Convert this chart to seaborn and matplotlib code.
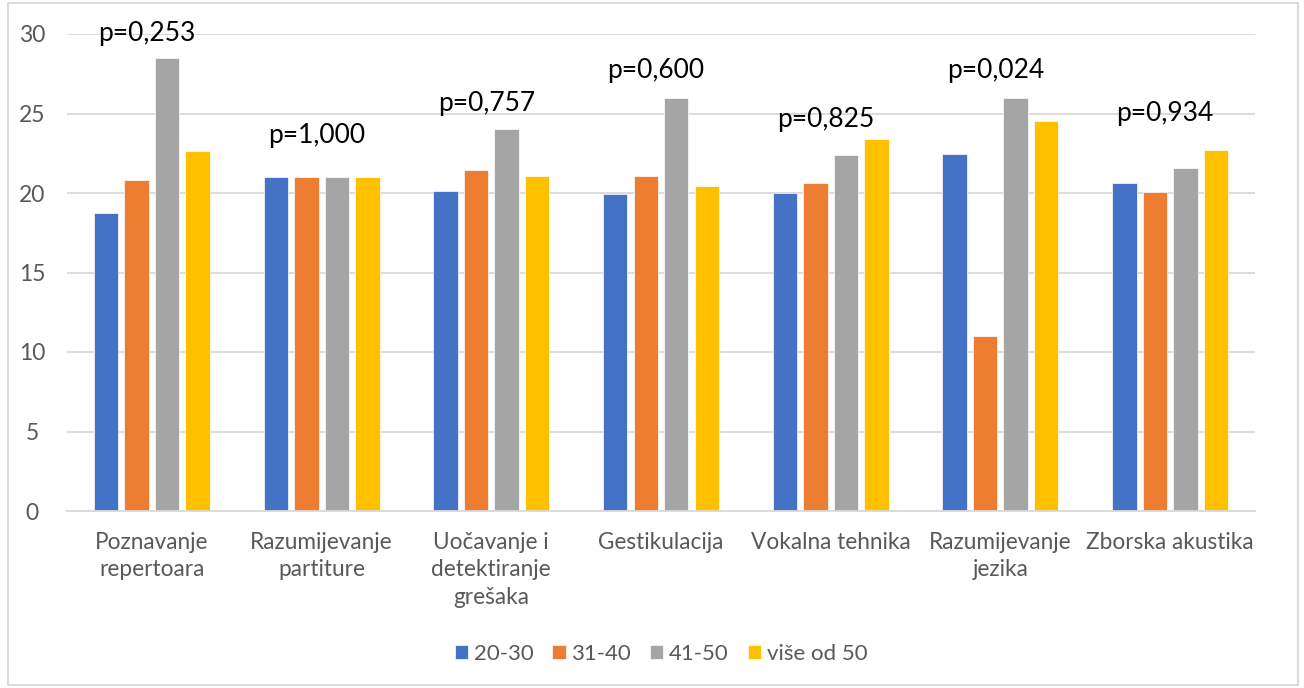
import pandas as pd
import seaborn as sns
import matplotlib.pyplot as plt
from matplotlib.patches import Rectangle

# categories (x axis) and the four age groups
categories = ['Poznavanje\nrepertoara', 'Razumijevanje\npartiture',
              'Uočavanje i\ndetektiranje\ngrešaka', 'Gestikulacija',
              'Vokalna tehnika', 'Razumijevanje\njezika', 'Zborska akustika']
groups = ['20-30', '31-40', '41-50', 'više od 50']

v_20_30 = [18.75, 21.0, 20.1, 19.95, 20.0, 22.45, 20.65]
v_31_40 = [20.8, 21.0, 21.45, 21.1, 20.6, 11.0, 20.05]
v_41_50 = [28.5, 21.0, 24.0, 26.0, 22.4, 26.0, 21.6]
v_50_plus = [22.65, 21.0, 21.05, 20.45, 23.4, 24.5, 22.7]

p_labels = ['p=0,253', 'p=1,000', 'p=0,757', 'p=0,600', 'p=0,825', 'p=0,024', 'p=0,934']
p_label_y = [30.0, 23.6, 25.6, 27.7, 24.65, 27.7, 25.0]

colors = ['#4472C4', '#ED7D31', '#A5A5A5', '#FFC000']

rows = []
for g, vals in zip(groups, [v_20_30, v_31_40, v_41_50, v_50_plus]):
    for c, v in zip(categories, vals):
        rows.append({'kategorija': c, 'dob': g, 'vrijednost': v})
df = pd.DataFrame(rows)

sns.set_style('white')
plt.rcParams['font.family'] = ['Lato', 'DejaVu Sans']

fig = plt.figure(figsize=(13.04, 6.88), dpi=100)
ax = fig.add_axes([67 / 1304, 1 - 511 / 688, (1255 - 67) / 1304, (511 - 34) / 688])

sns.barplot(data=df, x='kategorija', y='vrijednost', hue='dob', order=categories,
            hue_order=groups, palette=colors, saturation=1, width=0.72, gap=0.2,
            edgecolor='white', linewidth=0.5, ax=ax)

ax.set_ylim(0, 30)
ax.set_yticks(range(0, 31, 5))
ax.yaxis.grid(True, color='#d9d9d9', linewidth=1.3)
ax.set_axisbelow(True)
for s in ['top', 'right', 'left']:
    ax.spines[s].set_visible(False)
ax.spines['bottom'].set_color('#d9d9d9')
ax.spines['bottom'].set_linewidth(1.3)
ax.set_xlabel('')
ax.set_ylabel('')
ax.tick_params(axis='y', length=0, pad=25, labelsize=16.5, labelcolor='#595959')
ax.tick_params(axis='x', length=0, pad=15, labelsize=16.3, labelcolor='#595959')
for lbl in ax.get_yticklabels():
    lbl.set_horizontalalignment('center')
for lbl in ax.get_xticklabels():
    lbl.set_linespacing(1.38)
    lbl.set_verticalalignment('top')

for i, (txt, y) in enumerate(zip(p_labels, p_label_y)):
    ax.text(i - 0.03, y, txt, ha='center', va='center', fontsize=19, color='black')

handles, labels = ax.get_legend_handles_labels()
ax.legend(handles, labels, loc='center', bbox_to_anchor=(0.507, 1 - 654 / 688),
          bbox_transform=fig.transFigure, ncol=4, frameon=False, fontsize=16,
          handlelength=0.6, handleheight=0.6, handletextpad=0.26, columnspacing=0.85,
          labelcolor='#595959')

fig.patches.append(Rectangle((8 / 1304, 3 / 688), 1290 / 1304, 682 / 688,
                             transform=fig.transFigure, fill=False,
                             edgecolor='#d9d9d9', linewidth=1.3))

fig.savefig('out.png', dpi=100)
